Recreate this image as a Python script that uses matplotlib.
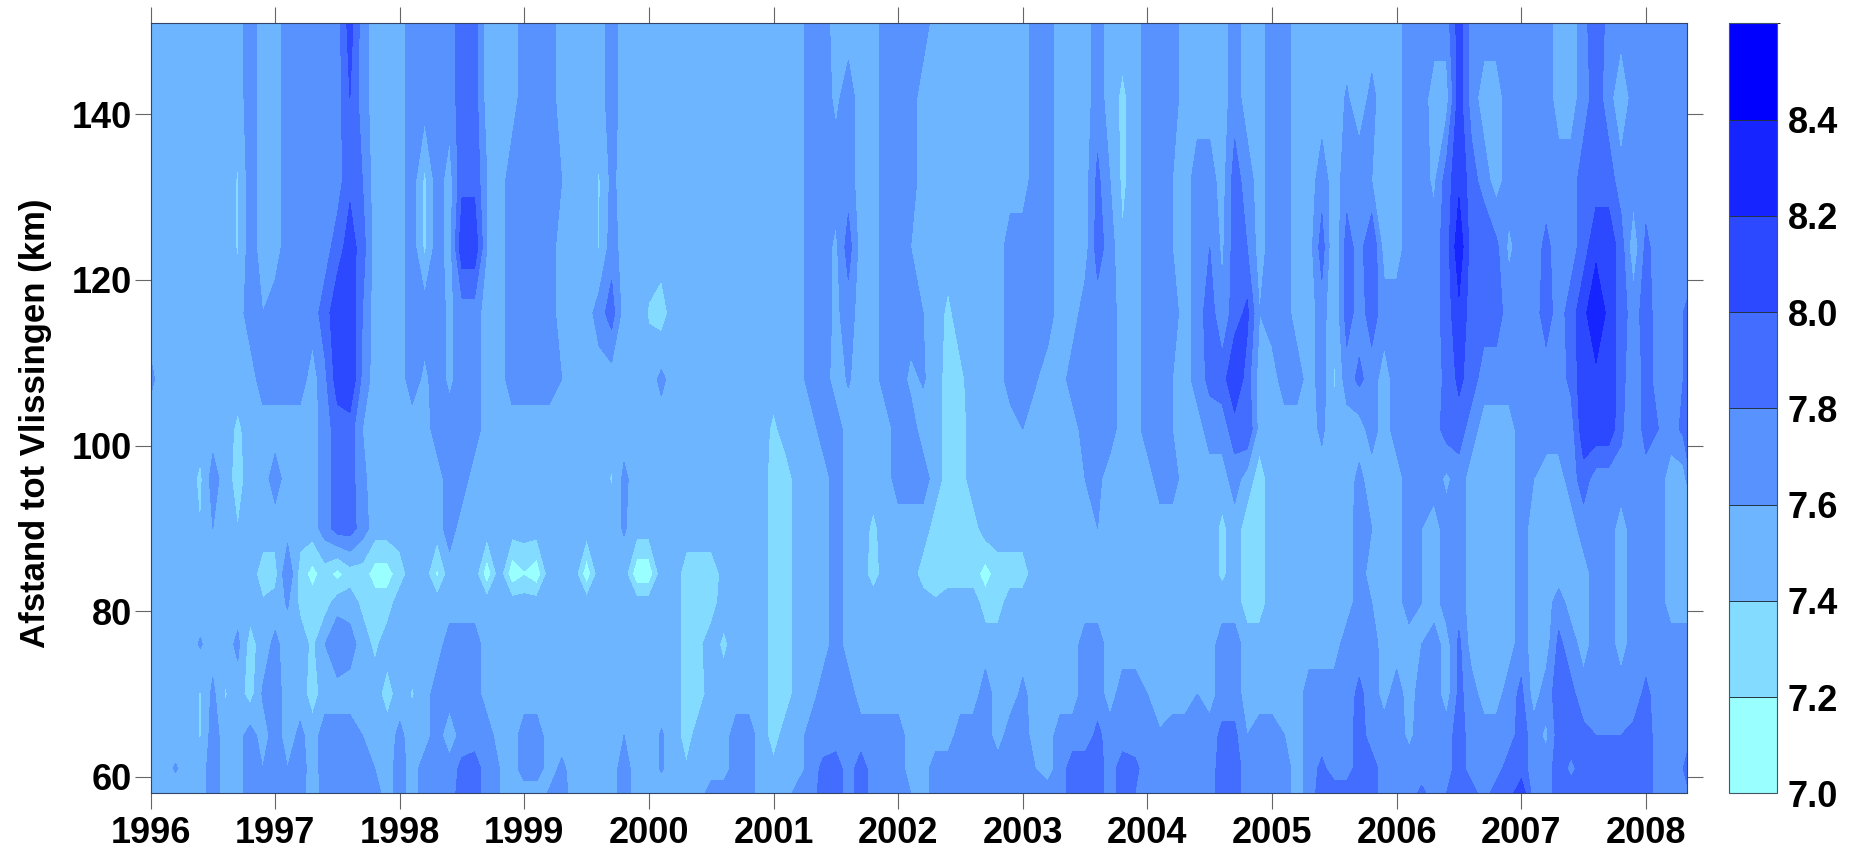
import numpy as np
import matplotlib
matplotlib.use('Agg')
import matplotlib.pyplot as plt
from matplotlib.colors import ListedColormap, BoundaryNorm

plt.rcParams['font.family'] = ['Liberation Sans', 'DejaVu Sans']
plt.rcParams['font.weight'] = 'bold'

# one column every 0.1 year from 1996.0, rows
years = [1996 + i / 10 for i in range(125)]
km = [58, 61, 65, 70, 76, 81, 84.5, 90, 96, 102, 108, 116, 124, 132, 142, 151]

km151 = [
 7.5,7.5,7.5,7.5,7.5,7.5,7.5,7.5,7.7,7.5,
 7.5,7.7,7.7,7.7,7.7,7.7,8.1,7.7,7.5,7.5,
 7.5,7.7,7.7,7.7,7.7,7.9,7.9,7.5,7.5,7.5,
 7.7,7.7,7.7,7.5,7.5,7.5,7.5,7.7,7.5,7.5,
 7.5,7.5,7.5,7.5,7.5,7.5,7.5,7.5,7.5,7.5,
 7.5,7.5,7.5,7.7,7.7,7.5,7.5,7.5,7.5,7.7,
 7.7,7.7,7.7,7.5,7.5,7.5,7.5,7.5,7.5,7.5,
 7.5,7.7,7.7,7.5,7.5,7.5,7.7,7.5,7.5,7.5,
 7.7,7.7,7.7,7.5,7.5,7.5,7.5,7.7,7.5,7.5,
 7.7,7.7,7.5,7.5,7.5,7.5,7.5,7.5,7.5,7.5,
 7.5,7.7,7.7,7.7,7.7,8.1,7.7,7.7,7.7,7.7,
 7.7,7.7,7.7,7.5,7.5,7.7,8.0,7.7,7.7,7.7,
 7.7,7.7,7.7,7.7,7.7]
km142 = [
 7.5,7.5,7.5,7.5,7.5,7.5,7.5,7.5,7.7,7.5,
 7.5,7.7,7.7,7.7,7.7,7.7,8.0,7.7,7.5,7.5,
 7.5,7.7,7.7,7.7,7.7,7.9,7.9,7.5,7.5,7.5,
 7.7,7.7,7.7,7.5,7.5,7.5,7.5,7.7,7.5,7.5,
 7.5,7.5,7.5,7.5,7.5,7.5,7.5,7.5,7.5,7.5,
 7.5,7.5,7.5,7.7,7.7,7.55,7.7,7.5,7.5,7.7,
 7.7,7.7,7.5,7.5,7.5,7.5,7.5,7.5,7.5,7.5,
 7.5,7.7,7.7,7.5,7.5,7.5,7.7,7.5,7.35,7.5,
 7.7,7.7,7.7,7.5,7.5,7.5,7.5,7.7,7.5,7.5,
 7.7,7.7,7.5,7.5,7.5,7.5,7.62,7.5,7.65,7.5,
 7.5,7.7,7.7,7.5,7.5,8.1,7.7,7.5,7.5,7.7,
 7.7,7.7,7.7,7.5,7.5,7.7,7.9,7.7,7.4,7.7,
 7.7,7.7,7.7,7.7,7.7]
km132 = [
 7.5,7.5,7.5,7.5,7.5,7.5,7.5,7.38,7.7,7.5,
 7.5,7.7,7.7,7.7,7.7,7.7,7.95,7.8,7.5,7.5,
 7.5,7.7,7.35,7.7,7.5,7.95,7.95,7.6,7.5,7.7,
 7.7,7.7,7.7,7.6,7.5,7.5,7.38,7.65,7.5,7.5,
 7.5,7.5,7.5,7.5,7.5,7.5,7.5,7.5,7.5,7.5,
 7.5,7.5,7.5,7.7,7.7,7.7,7.7,7.5,7.5,7.7,
 7.7,7.7,7.5,7.5,7.5,7.5,7.5,7.5,7.5,7.5,
 7.5,7.7,7.7,7.5,7.5,7.5,7.85,7.6,7.35,7.5,
 7.7,7.7,7.6,7.5,7.7,7.7,7.5,7.9,7.7,7.5,
 7.7,7.7,7.5,7.5,7.7,7.5,7.7,7.7,7.6,7.5,
 7.5,7.7,7.7,7.55,7.9,8.15,7.9,7.7,7.5,7.7,
 7.7,7.7,7.7,7.7,7.7,7.9,7.9,7.9,7.7,7.7,
 7.7,7.7,7.7,7.7,7.7]
km124 = [
 7.5,7.5,7.5,7.5,7.5,7.5,7.5,7.38,7.7,7.5,
 7.5,7.7,7.7,7.7,7.7,7.9,8.1,7.9,7.5,7.5,
 7.5,7.7,7.35,7.7,7.5,8.15,8.15,7.6,7.5,7.7,
 7.7,7.7,7.7,7.5,7.5,7.5,7.38,7.7,7.5,7.5,
 7.5,7.5,7.5,7.5,7.5,7.5,7.5,7.5,7.5,7.5,
 7.5,7.5,7.5,7.7,7.7,7.55,7.9,7.5,7.5,7.7,
 7.7,7.6,7.5,7.5,7.5,7.5,7.5,7.5,7.5,7.7,
 7.7,7.7,7.7,7.5,7.5,7.5,7.9,7.7,7.42,7.5,
 7.7,7.7,7.6,7.5,7.7,7.8,7.55,7.9,7.8,7.5,
 7.7,7.7,7.5,7.5,7.9,7.38,7.9,7.7,8.0,7.5,
 7.5,7.7,7.7,7.7,7.9,8.35,7.9,8.0,7.85,7.55,
 7.7,7.7,7.85,7.7,7.7,7.9,8.15,8.15,7.9,7.45,
 7.85,7.7,7.7,7.7,7.7]
km116 = [
 7.5,7.5,7.5,7.5,7.5,7.5,7.5,7.5,7.7,7.6,
 7.7,7.7,7.7,7.7,7.9,8.15,8.15,7.8,7.5,7.5,
 7.5,7.7,7.7,7.7,7.55,7.7,7.7,7.5,7.5,7.7,
 7.7,7.7,7.7,7.5,7.5,7.5,7.7,7.9,7.5,7.5,
 7.38,7.3,7.5,7.5,7.5,7.5,7.5,7.5,7.5,7.5,
 7.5,7.5,7.5,7.7,7.7,7.55,7.7,7.5,7.5,7.7,
 7.7,7.7,7.6,7.5,7.35,7.5,7.5,7.5,7.5,7.7,
 7.7,7.7,7.7,7.5,7.5,7.7,7.7,7.7,7.5,7.5,
 7.7,7.7,7.7,7.5,7.7,7.9,7.65,7.9,8.05,7.6,
 7.7,7.7,7.5,7.5,7.7,7.4,7.9,7.7,7.9,7.7,
 7.7,7.7,7.7,7.7,7.9,8.15,7.9,7.9,7.9,7.7,
 7.7,7.7,7.9,7.7,7.9,8.15,8.35,8.15,7.9,7.7,
 7.9,7.7,7.7,7.8,8.0]
km108 = [
 7.65,7.5,7.5,7.5,7.5,7.5,7.5,7.5,7.5,7.7,
 7.7,7.7,7.7,7.5,7.75,8.1,8.2,7.75,7.5,7.5,
 7.5,7.7,7.55,7.7,7.55,7.7,7.7,7.5,7.5,7.7,
 7.7,7.7,7.7,7.6,7.5,7.5,7.5,7.5,7.5,7.5,
 7.5,7.65,7.5,7.5,7.5,7.5,7.5,7.5,7.5,7.5,
 7.5,7.5,7.5,7.7,7.7,7.5,7.62,7.5,7.5,7.7,
 7.7,7.55,7.62,7.5,7.3,7.35,7.5,7.5,7.5,7.7,
 7.7,7.62,7.5,7.5,7.7,7.7,7.7,7.7,7.5,7.5,
 7.7,7.7,7.6,7.5,7.7,7.85,7.9,8.2,7.9,7.5,
 7.5,7.7,7.7,7.5,7.7,7.38,7.7,7.85,7.7,7.5,
 7.7,7.7,7.7,7.7,7.85,8.05,7.9,7.7,7.7,7.7,
 7.7,7.7,7.7,7.7,7.85,8.15,8.15,8.15,7.9,7.6,
 7.9,7.7,7.7,7.8,8.0]
km102 = [
 7.5,7.5,7.5,7.5,7.5,7.5,7.5,7.35,7.5,7.5,
 7.5,7.5,7.5,7.5,7.7,7.9,7.9,7.6,7.5,7.5,
 7.5,7.5,7.5,7.7,7.7,7.7,7.7,7.5,7.5,7.5,
 7.5,7.5,7.5,7.5,7.5,7.5,7.5,7.5,7.5,7.5,
 7.5,7.5,7.5,7.5,7.5,7.5,7.5,7.5,7.5,7.5,
 7.35,7.5,7.5,7.5,7.7,7.7,7.5,7.5,7.5,7.5,
 7.7,7.7,7.5,7.5,7.3,7.3,7.5,7.5,7.5,7.5,
 7.6,7.5,7.5,7.5,7.5,7.7,7.7,7.7,7.5,7.5,
 7.7,7.7,7.6,7.5,7.5,7.7,7.7,7.9,8.0,7.5,
 7.5,7.5,7.5,7.5,7.65,7.4,7.5,7.5,7.7,7.5,
 7.7,7.7,7.7,7.7,7.9,7.9,7.7,7.5,7.5,7.5,
 7.7,7.7,7.7,7.7,7.7,8.15,8.15,8.15,7.85,7.6,
 7.9,7.8,7.7,7.85,8.0]
km96 = [
 7.5,7.5,7.5,7.5,7.35,7.7,7.5,7.3,7.5,7.5,
 7.7,7.5,7.5,7.5,7.7,7.9,7.9,7.65,7.5,7.5,
 7.5,7.5,7.5,7.5,7.7,7.7,7.5,7.5,7.5,7.5,
 7.5,7.5,7.5,7.5,7.5,7.5,7.5,7.38,7.65,7.5,
 7.5,7.5,7.5,7.5,7.5,7.5,7.5,7.5,7.5,7.5,
 7.3,7.3,7.5,7.5,7.5,7.7,7.5,7.5,7.5,7.5,
 7.7,7.7,7.7,7.5,7.3,7.3,7.5,7.5,7.5,7.5,
 7.5,7.5,7.5,7.5,7.5,7.6,7.65,7.5,7.5,7.5,
 7.5,7.7,7.7,7.5,7.5,7.5,7.5,7.7,7.5,7.3,
 7.5,7.5,7.5,7.5,7.5,7.5,7.5,7.65,7.5,7.5,
 7.5,7.7,7.7,7.7,7.55,7.7,7.5,7.5,7.5,7.5,
 7.7,7.6,7.5,7.5,7.7,7.9,7.7,7.7,7.7,7.7,
 7.7,7.7,7.5,7.5,8.0]
km90 = [
 7.5,7.5,7.5,7.5,7.4,7.6,7.5,7.4,7.5,7.5,
 7.5,7.5,7.5,7.5,7.7,7.9,7.9,7.7,7.5,7.5,
 7.5,7.5,7.5,7.5,7.7,7.5,7.5,7.5,7.5,7.5,
 7.5,7.5,7.5,7.5,7.5,7.5,7.5,7.5,7.62,7.5,
 7.5,7.5,7.5,7.5,7.5,7.5,7.5,7.5,7.5,7.5,
 7.3,7.3,7.5,7.5,7.5,7.7,7.5,7.5,7.35,7.5,
 7.5,7.5,7.5,7.3,7.3,7.3,7.3,7.5,7.5,7.5,
 7.5,7.5,7.5,7.5,7.5,7.5,7.6,7.5,7.5,7.5,
 7.5,7.5,7.5,7.5,7.5,7.5,7.35,7.5,7.3,7.3,
 7.5,7.5,7.5,7.5,7.5,7.5,7.5,7.7,7.6,7.5,
 7.5,7.7,7.6,7.5,7.7,7.7,7.5,7.5,7.5,7.5,
 7.7,7.5,7.5,7.5,7.5,7.7,7.7,7.7,7.5,7.7,
 7.7,7.7,7.5,7.5,7.5]
km84 = [
 7.5,7.5,7.5,7.5,7.5,7.5,7.5,7.5,7.5,7.3,
 7.3,7.8,7.3,7.12,7.3,7.12,7.3,7.3,7.1,7.1,
 7.3,7.5,7.5,7.15,7.5,7.5,7.5,7.05,7.5,7.05,
 7.18,7.05,7.5,7.5,7.5,7.05,7.5,7.5,7.5,7.05,
 7.05,7.5,7.5,7.3,7.3,7.3,7.45,7.5,7.5,7.5,
 7.3,7.3,7.5,7.5,7.5,7.7,7.5,7.5,7.3,7.5,
 7.5,7.5,7.3,7.3,7.3,7.3,7.3,7.1,7.3,7.3,
 7.3,7.5,7.5,7.5,7.5,7.5,7.5,7.5,7.5,7.5,
 7.5,7.5,7.5,7.5,7.5,7.5,7.35,7.5,7.3,7.3,
 7.5,7.5,7.5,7.5,7.5,7.5,7.5,7.7,7.5,7.5,
 7.5,7.7,7.6,7.5,7.7,7.7,7.5,7.5,7.5,7.5,
 7.7,7.5,7.5,7.5,7.5,7.5,7.7,7.7,7.5,7.7,
 7.7,7.7,7.5,7.5,7.5]
km81 = [
 7.5,7.5,7.5,7.5,7.5,7.5,7.5,7.5,7.5,7.42,
 7.5,7.62,7.35,7.3,7.3,7.5,7.5,7.35,7.3,7.3,
 7.5,7.5,7.5,7.5,7.5,7.5,7.5,7.5,7.5,7.5,
 7.5,7.5,7.5,7.5,7.5,7.5,7.5,7.5,7.5,7.5,
 7.5,7.5,7.5,7.3,7.3,7.3,7.5,7.5,7.5,7.5,
 7.3,7.3,7.5,7.5,7.5,7.7,7.5,7.5,7.5,7.5,
 7.5,7.5,7.5,7.42,7.5,7.5,7.5,7.3,7.3,7.5,
 7.5,7.5,7.5,7.5,7.5,7.5,7.5,7.5,7.5,7.5,
 7.5,7.5,7.5,7.5,7.5,7.5,7.5,7.5,7.3,7.3,
 7.5,7.5,7.5,7.5,7.5,7.5,7.5,7.7,7.6,7.5,
 7.5,7.7,7.6,7.5,7.7,7.7,7.5,7.5,7.5,7.5,
 7.7,7.5,7.5,7.7,7.5,7.5,7.7,7.7,7.5,7.7,
 7.7,7.7,7.5,7.5,7.5]
km76 = [
 7.5,7.5,7.5,7.5,7.62,7.5,7.5,7.65,7.3,7.5,
 7.65,7.5,7.5,7.35,7.6,7.8,7.7,7.5,7.35,7.5,
 7.5,7.5,7.5,7.5,7.7,7.7,7.7,7.5,7.5,7.5,
 7.5,7.5,7.5,7.5,7.5,7.5,7.5,7.5,7.5,7.5,
 7.5,7.5,7.5,7.3,7.35,7.5,7.35,7.5,7.5,7.5,
 7.3,7.3,7.5,7.5,7.5,7.7,7.5,7.5,7.5,7.5,
 7.5,7.5,7.5,7.5,7.5,7.5,7.5,7.5,7.5,7.5,
 7.5,7.5,7.5,7.5,7.5,7.7,7.7,7.5,7.5,7.5,
 7.5,7.5,7.5,7.5,7.5,7.5,7.7,7.7,7.5,7.5,
 7.5,7.5,7.5,7.5,7.5,7.5,7.7,7.7,7.7,7.5,
 7.5,7.5,7.6,7.7,7.5,7.85,7.5,7.5,7.5,7.5,
 7.7,7.5,7.5,7.85,7.7,7.5,7.7,7.7,7.5,7.7,
 7.7,7.7,7.7,7.7,7.7]
km70 = [
 7.5,7.5,7.5,7.5,7.38,7.65,7.38,7.5,7.3,7.62,
 7.7,7.5,7.5,7.3,7.5,7.5,7.5,7.5,7.5,7.3,
 7.5,7.38,7.5,7.7,7.7,7.7,7.7,7.5,7.5,7.5,
 7.5,7.5,7.5,7.5,7.5,7.5,7.5,7.5,7.5,7.5,
 7.5,7.5,7.5,7.3,7.3,7.5,7.5,7.5,7.5,7.5,
 7.3,7.3,7.5,7.5,7.7,7.7,7.7,7.5,7.5,7.5,
 7.5,7.5,7.5,7.5,7.5,7.5,7.5,7.7,7.5,7.5,
 7.65,7.5,7.5,7.5,7.5,7.7,7.7,7.5,7.7,7.7,
 7.6,7.5,7.5,7.5,7.6,7.5,7.7,7.7,7.5,7.5,
 7.5,7.5,7.5,7.7,7.7,7.7,7.7,7.85,7.7,7.52,
 7.7,7.5,7.7,7.7,7.5,7.85,7.7,7.5,7.5,7.7,
 7.85,7.5,7.7,7.9,7.85,7.7,7.7,7.7,7.7,7.7,
 7.85,7.7,7.7,7.7,7.7]
km65 = [
 7.5,7.5,7.5,7.5,7.38,7.7,7.5,7.5,7.7,7.5,
 7.7,7.5,7.65,7.5,7.7,7.7,7.7,7.6,7.5,7.5,
 7.65,7.5,7.5,7.7,7.45,7.7,7.7,7.7,7.5,7.5,
 7.7,7.7,7.5,7.5,7.5,7.5,7.5,7.5,7.6,7.5,
 7.5,7.62,7.5,7.3,7.5,7.5,7.5,7.7,7.7,7.5,
 7.3,7.5,7.5,7.7,7.7,7.7,7.7,7.7,7.7,7.7,
 7.7,7.5,7.5,7.5,7.5,7.7,7.7,7.7,7.5,7.7,
 7.7,7.5,7.5,7.7,7.7,7.7,7.85,7.7,7.7,7.7,
 7.7,7.62,7.7,7.7,7.7,7.7,7.85,7.85,7.6,7.7,
 7.7,7.6,7.5,7.7,7.7,7.7,7.7,7.9,7.7,7.7,
 7.7,7.55,7.7,7.7,7.7,7.9,7.7,7.7,7.7,7.7,
 7.9,7.7,7.55,7.9,7.9,7.85,7.8,7.8,7.8,7.85,
 7.9,7.7,7.7,7.7,7.85]
km61 = [
 7.5,7.5,7.62,7.5,7.5,7.7,7.5,7.5,7.7,7.6,
 7.7,7.6,7.7,7.5,7.7,7.7,7.7,7.7,7.6,7.5,
 7.7,7.5,7.7,7.7,7.7,7.85,7.9,7.7,7.6,7.5,
 7.7,7.7,7.5,7.65,7.5,7.5,7.5,7.5,7.7,7.5,
 7.5,7.62,7.5,7.42,7.5,7.5,7.5,7.7,7.7,7.5,
 7.45,7.5,7.5,7.7,7.85,7.9,7.7,7.9,7.7,7.7,
 7.7,7.5,7.5,7.7,7.7,7.7,7.7,7.7,7.7,7.7,
 7.7,7.6,7.5,7.7,7.9,7.9,7.9,7.7,7.9,7.85,
 7.7,7.7,7.7,7.7,7.7,7.7,7.9,7.9,7.7,7.7,
 7.7,7.7,7.5,7.7,7.85,7.7,7.7,7.9,7.9,7.7,
 7.7,7.7,7.7,7.7,7.7,7.9,7.7,7.7,7.7,7.9,
 7.9,7.7,7.7,7.9,7.75,7.9,7.9,7.9,7.9,7.9,
 7.9,7.7,7.7,7.8,8.0]
km58 = [
 7.5,7.5,7.5,7.5,7.5,7.7,7.5,7.5,7.7,7.6,
 7.7,7.6,7.7,7.45,7.7,7.7,7.7,7.7,7.7,7.5,
 7.7,7.5,7.7,7.7,7.7,7.9,7.9,7.7,7.6,7.5,
 7.5,7.5,7.62,7.7,7.5,7.5,7.5,7.5,7.7,7.5,
 7.5,7.5,7.5,7.5,7.5,7.7,7.7,7.7,7.7,7.5,
 7.5,7.5,7.7,7.7,7.9,7.9,7.7,7.9,7.7,7.7,
 7.7,7.6,7.5,7.7,7.7,7.7,7.7,7.7,7.7,7.7,
 7.7,7.7,7.7,7.7,7.9,7.9,7.9,7.7,7.9,7.8,
 7.7,7.7,7.7,7.7,7.7,7.7,7.9,7.9,7.7,7.7,
 7.7,7.7,7.5,7.7,7.9,7.9,7.9,7.9,7.9,7.7,
 7.7,7.7,7.85,7.7,7.8,7.9,7.9,7.7,7.9,7.9,
 8.15,7.7,7.7,7.9,7.9,7.9,7.9,7.9,7.9,7.9,
 7.9,7.7,7.7,7.7,7.9]

rows = [km58, km61, km65, km70, km76, km81, km84, km90, km96,
        km102, km108, km116, km124, km132, km142, km151]

levels = [7.0, 7.2, 7.4, 7.6, 7.8, 8.0, 8.2, 8.4, 8.6]
colors = ['#99ffff', '#83dbff', '#6db6ff', '#5792ff', '#426dff', '#2c49ff', '#1624ff', '#0000ff']
year_ticks = list(range(1996, 2009))
km_ticks = [60, 80, 100, 120, 140]

W, H = 1854, 848
fig = plt.figure(figsize=(W / 100, H / 100), dpi=100)
ax = fig.add_axes([150.5 / W, 1 - 793.3 / H, (1687 - 150.5) / W, (793.3 - 23.3) / H])

cmap = ListedColormap(colors)
norm = BoundaryNorm(levels, cmap.N)
cs = ax.contourf(years, km, np.array(rows), levels=levels, cmap=cmap, norm=norm)

ax.set_xlim(1996, 2008.33)
ax.set_ylim(58, 151)
ax.set_xticks(year_ticks)
ax.set_yticks(km_ticks)
ax.tick_params(axis='both', direction='out', length=11.2, width=0.8, color='#666666',
               labelsize=26, top=True, right=True)
ax.tick_params(axis='x', pad=5)
ax.tick_params(axis='y', pad=2)
for s in ax.spines.values():
    s.set_linewidth(0.8)
    s.set_color('#334466')
ax.set_ylabel('Afstand tot Vlissingen (km)', fontsize=25, fontweight='bold', labelpad=14.6, y=0.48)

cax = fig.add_axes([1728.5 / W, 1 - 793.3 / H, 48.2 / W, (793.3 - 23.3) / H])
cb = fig.colorbar(cs, cax=cax, ticks=levels[:-1], drawedges=True)
cb.ax.set_yticklabels(['%.1f' % v for v in levels[:-1]])
cb.ax.tick_params(length=0, labelsize=26, pad=8)
cb.dividers.set_color('#223344')
cb.dividers.set_linewidth(0.7)
cb.outline.set_linewidth(0.8)
cb.outline.set_edgecolor('#445566')

fig.savefig('out.png', dpi=100)
